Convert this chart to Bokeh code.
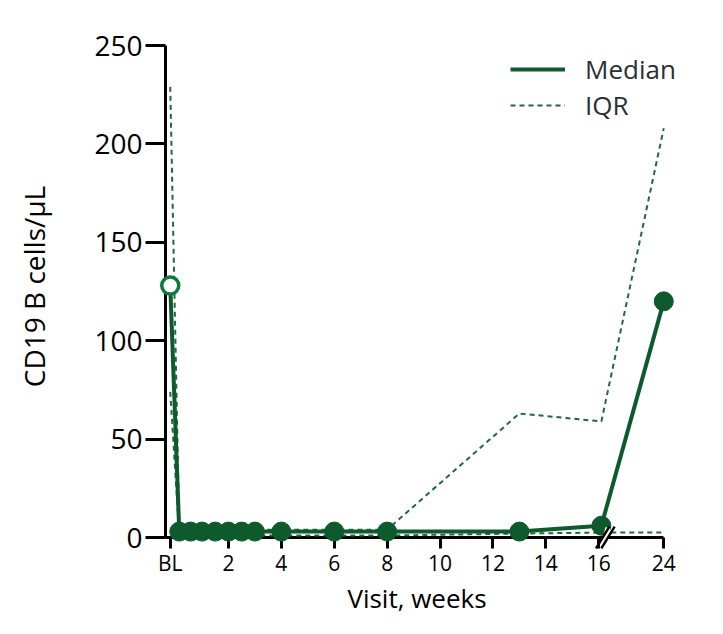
from bokeh.plotting import figure
from bokeh.models import FixedTicker, Legend, LegendItem, Range1d
from bokeh.embed import file_html
from bokeh.resources import INLINE

# ---- data ----
visit_weeks = [-0.2, 0.14, 0.57, 1.0, 1.5, 2.0, 2.5, 3.0, 4.0, 6.0, 8.0, 13.0, 16.1, 24.0]
median = [128, 3, 3, 3, 3, 3, 3, 3, 3, 3, 3, 3, 6, 120]
iqr_upper = [229, 4, 4, 4, 4, 4, 4, 4, 4, 4, 4, 63, 59, 208]
iqr_lower = [74, 1, 1, 1, 1, 1, 1, 1, 1, 1, 1, 2, 2.5, 2.5]
tick_weeks = [-0.2, 2, 4, 6, 8, 10, 12, 14, 16, 24]
tick_labels = ["BL", "2", "4", "6", "8", "10", "12", "14", "16", "24"]
y_ticks = [0, 50, 100, 150, 200, 250]

# broken x axis: weeks after the break are compressed
break_week = 16.25
post_break_scale = 0.285


def to_axis(w):
    return w if w <= break_week else break_week + (w - break_week) * post_break_scale


xs = [to_axis(w) for w in visit_weeks]
tick_pos = [to_axis(w) for w in tick_weeks]
x_start = -0.38
x_end_axis = to_axis(24)

DARK = "#0d5a2c"
OPEN = "#0b7a3b"
DASH = "#1d6b3c"
FONT = "Open Sans"

p = figure(width=707, height=618, output_backend="svg", toolbar_location=None,
           x_range=Range1d(x_start, x_end_axis + 1.2), y_range=Range1d(0, 255.1),
           min_border_left=165, min_border_right=12, min_border_top=35, min_border_bottom=81)
p.grid.visible = False
p.outline_line_color = None
p.background_fill_color = "white"

# axes
xa = p.xaxis[0]
xa.ticker = FixedTicker(ticks=tick_pos)
xa.bounds = (x_start, x_end_axis)
xa.major_label_overrides = {t: l for t, l in zip(tick_pos, tick_labels)}
xa.axis_line_width = 3
xa.major_tick_line_width = 3
xa.major_tick_out = 11
xa.major_tick_in = 0
xa.minor_tick_line_color = None
xa.major_label_text_font = FONT
xa.major_label_text_font_size = "21px"
xa.major_label_text_color = "black"
xa.major_label_standoff = 0
xa.axis_label = "Visit, weeks\u00a0\u00a0\u00a0\u00a0"
xa.axis_label_text_font = FONT
xa.axis_label_text_font_size = "26px"
xa.axis_label_text_font_style = "normal"
xa.axis_label_text_color = "black"
xa.axis_label_standoff = 0

ya = p.yaxis[0]
ya.ticker = FixedTicker(ticks=y_ticks)
ya.bounds = (0, 250)
ya.axis_line_width = 3
ya.major_tick_line_width = 3
ya.major_tick_out = 20
ya.major_tick_in = 0
ya.minor_tick_line_color = None
ya.major_label_text_font = FONT
ya.major_label_text_font_size = "28px"
ya.major_label_text_color = "black"
ya.major_label_standoff = 3
ya.axis_label = "CD19 B cells/\u00b5L"
ya.axis_label_text_font = FONT
ya.axis_label_text_font_size = "28px"
ya.axis_label_text_font_style = "normal"
ya.axis_label_text_color = "black"
ya.axis_label_standoff = 38

# IQR lines
r_up = p.line(xs, iqr_upper, line_color=DASH, line_width=2, line_dash="5 4", level="overlay")
r_lo = p.line(xs, iqr_lower, line_color=DASH, line_width=2, line_dash="5 4", level="overlay")
# median
r_med = p.line(xs, median, line_color=DARK, line_width=4, level="overlay")
p.scatter(xs[1:], median[1:], size=19, fill_color=DARK, line_color=DARK, level="overlay")
p.scatter(xs[:1], median[:1], size=17, fill_color="white", line_color=OPEN, line_width=3.5, level="overlay")

# axis break marks
bx = to_axis(break_week)
dx = 0.25
dy = 5.5
gap = 0.1
p.segment(x0=[bx - gap], y0=[-dy * 0.9], x1=[bx + gap], y1=[dy * 0.9],
          line_color="white", line_width=5, level="overlay")
p.segment(x0=[bx - gap - dx, bx + gap - dx], y0=[-dy, -dy], x1=[bx - gap + dx, bx + gap + dx], y1=[dy, dy],
          line_color="black", line_width=2.5, level="overlay")

legend = Legend(items=[LegendItem(label="Median", renderers=[r_med]),
                       LegendItem(label="IQR", renderers=[r_up])],
                location=(345, 414), padding=0, margin=0, spacing=0,
                glyph_width=55, glyph_height=34, label_height=34, label_standoff=20,
                label_text_font=FONT, label_text_font_size="26px", label_text_color="#2a2f36",
                background_fill_alpha=0, border_line_alpha=0)
p.add_layout(legend)

open("out.html", "w").write(file_html(p, INLINE))
